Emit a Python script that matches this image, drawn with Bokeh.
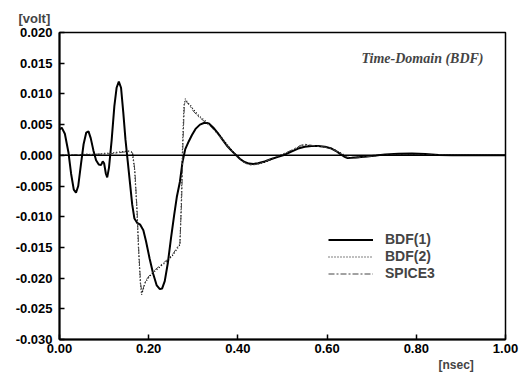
from bokeh.plotting import figure
from bokeh.models import Range1d, FixedTicker, PrintfTickFormatter, Span, Label, Title
from bokeh.embed import file_html
from bokeh.resources import INLINE

# ---- data (time in nsec, voltage in units of 0.001 volt, converted below) ----
t_bdf1 = [0.000, 0.005, 0.012, 0.020, 0.026, 0.032, 0.037, 0.042, 0.048, 0.054,
          0.060, 0.065, 0.070, 0.076, 0.082, 0.088, 0.093, 0.097, 0.100, 0.104,
          0.107, 0.111, 0.117, 0.123, 0.128, 0.133, 0.138, 0.143, 0.148, 0.153,
          0.158, 0.163, 0.168, 0.174, 0.181, 0.188, 0.194, 0.202, 0.210, 0.218,
          0.225, 0.230, 0.236, 0.243, 0.250, 0.257, 0.263, 0.270, 0.276, 0.282,
          0.290, 0.297, 0.305, 0.315, 0.325, 0.335, 0.345, 0.355, 0.365, 0.375,
          0.385, 0.395, 0.405, 0.415, 0.425, 0.435, 0.445, 0.460, 0.475, 0.490,
          0.505, 0.520, 0.535, 0.550, 0.565, 0.580, 0.595, 0.610, 0.620, 0.630,
          0.638, 0.646, 0.655, 0.670, 0.690, 0.710, 0.730, 0.760, 0.790, 0.820,
          0.850, 0.880, 0.920, 1.000]
v_bdf1 = [4.2, 4.5, 3.5, 0.5, -3.0, -5.6, -6.1, -5.0, -1.5, 1.8,
          3.7, 3.9, 2.8, 0.8, -0.8, -1.5, -1.6, -1.0, -1.3, -3.0,
          -3.6, -2.0, 2.5, 8.0, 11.0, 12.0, 11.0, 7.0, 2.5, -1.0,
          -4.5, -8.0, -10.3, -11.0, -11.3, -12.2, -14.0, -16.8, -19.3, -21.2,
          -21.8, -21.7, -20.5, -17.5, -13.5, -9.8, -6.8, -4.3, -1.0, 1.0,
          2.3, 3.3, 4.3, 5.0, 5.3, 5.2, 4.5, 3.6, 2.6, 1.6,
          0.8, 0.1, -0.6, -1.1, -1.35, -1.4, -1.3, -1.0, -0.6, -0.25,
          0.1, 0.6, 1.1, 1.4, 1.5, 1.5, 1.4, 1.1, 0.7, 0.2,
          -0.2, -0.45, -0.4, -0.3, -0.2, -0.05, 0.15, 0.25, 0.3, 0.2,
          0.05, 0.0, 0.0, 0.0]

t_bdf2 = [0.000, 0.020, 0.040, 0.060, 0.080, 0.100, 0.120, 0.140, 0.155, 0.163,
          0.168, 0.173, 0.177, 0.181, 0.184, 0.187, 0.192, 0.197, 0.205, 0.215,
          0.225, 0.235, 0.245, 0.255, 0.263, 0.270, 0.273, 0.276, 0.279, 0.282,
          0.287, 0.293, 0.300, 0.310, 0.320, 0.330, 0.340, 0.350, 0.360, 0.370,
          0.380, 0.390, 0.400, 0.410, 0.420, 0.430, 0.440, 0.450, 0.465, 0.480,
          0.495, 0.510, 0.525, 0.540, 0.550, 0.560, 0.575, 0.590, 0.605, 0.620,
          0.635, 0.645, 0.655, 0.670, 0.690, 0.720, 0.760, 0.800, 0.850, 0.900,
          1.000]
v_bdf2 = [0.0, 0.1, 0.0, 0.2, 0.1, 0.3, 0.4, 0.6, 0.7, 0.5,
          -2.0, -8.0, -15.0, -20.5, -22.7, -22.0, -20.8, -20.2, -19.5, -18.8,
          -18.2, -17.6, -17.0, -16.2, -15.3, -14.6, -8.0, 2.0, 8.0, 9.2,
          8.6, 8.2, 7.5, 6.6, 6.0, 5.4, 4.8, 4.0, 3.2, 2.3,
          1.4, 0.5, -0.3, -0.9, -1.3, -1.5, -1.5, -1.35, -1.0, -0.5,
          0.0, 0.4, 0.9, 1.5, 1.7, 1.6, 1.5, 1.4, 1.2, 0.8,
          0.2, -0.3, -0.4, -0.3, -0.15, 0.0, 0.1, 0.15, 0.05, 0.0,
          0.0]

t_spice = [0.000, 0.020, 0.040, 0.060, 0.080, 0.100, 0.120, 0.140, 0.155, 0.164,
           0.169, 0.174, 0.178, 0.182, 0.185, 0.188, 0.193, 0.198, 0.205, 0.215,
           0.225, 0.235, 0.245, 0.255, 0.263, 0.270, 0.274, 0.277, 0.280, 0.283,
           0.288, 0.294, 0.300, 0.310, 0.320, 0.330, 0.340, 0.350, 0.360, 0.370,
           0.380, 0.390, 0.400, 0.410, 0.420, 0.430, 0.440, 0.450, 0.465, 0.480,
           0.495, 0.510, 0.525, 0.540, 0.550, 0.560, 0.575, 0.590, 0.605, 0.620,
           0.635, 0.645, 0.655, 0.670, 0.690, 0.720, 0.760, 0.800, 0.850, 0.900,
           1.000]
v_spice = [0.0, 0.0, 0.1, 0.1, 0.2, 0.2, 0.3, 0.5, 0.6, 0.4,
           -2.5, -9.0, -16.0, -21.0, -22.4, -21.6, -20.5, -19.9, -19.3, -18.6,
           -18.0, -17.4, -16.8, -16.0, -15.1, -14.4, -7.0, 2.5, 8.3, 8.9,
           8.4, 7.9, 7.2, 6.4, 5.8, 5.2, 4.6, 3.8, 3.0, 2.1,
           1.2, 0.4, -0.4, -1.0, -1.4, -1.6, -1.5, -1.3, -0.9, -0.4,
           0.0, 0.5, 1.0, 1.6, 1.8, 1.7, 1.5, 1.4, 1.2, 0.7,
           0.1, -0.3, -0.5, -0.4, -0.2, 0.0, 0.1, 0.1, 0.05, 0.0,
           0.0]

y_ticks = [-0.030, -0.025, -0.020, -0.015, -0.010, -0.005, 0.000, 0.005, 0.010, 0.015, 0.020]
x_ticks = [0.0, 0.2, 0.4, 0.6, 0.8, 1.0]

to_volt = lambda vals: [v * 0.001 for v in vals]

p = figure(frame_width=446, frame_height=307,
           min_border_left=59, min_border_right=22, min_border_top=32, min_border_bottom=34,
           x_range=Range1d(0, 1.0), y_range=Range1d(-0.030, 0.020),
           output_backend="svg", toolbar_location=None,
           background_fill_color="white", border_fill_color="white")

p.xgrid.visible = False
p.ygrid.visible = False
p.outline_line_color = "black"
p.outline_line_width = 1.5

for ax in (p.xaxis[0], p.yaxis[0]):
    ax.axis_line_width = 2
    ax.axis_line_color = "black"
    ax.major_tick_in = 5
    ax.major_tick_out = 0
    ax.major_tick_line_width = 1.5
    ax.minor_tick_in = 0
    ax.minor_tick_out = 0
    ax.major_label_text_font = "Liberation Sans"
    ax.major_label_text_font_style = "bold"
    ax.major_label_text_font_size = "13px"
    ax.major_label_text_color = "black"

p.yaxis[0].ticker = FixedTicker(ticks=y_ticks)
p.yaxis[0].formatter = PrintfTickFormatter(format="%.3f")
p.yaxis[0].major_label_standoff = 7
p.xaxis[0].ticker = FixedTicker(ticks=x_ticks)
p.xaxis[0].formatter = PrintfTickFormatter(format="%.2f")
p.xaxis[0].major_label_standoff = 4

p.add_layout(Span(location=0, dimension="width", line_color="black", line_width=1.5))

p.line(t_bdf1, to_volt(v_bdf1), line_color="black", line_width=2, legend_label="BDF(1)")
p.line(t_bdf2, to_volt(v_bdf2), line_color="black", line_width=1.2, line_dash="1 2",
       legend_label="BDF(2)")
p.line(t_spice, to_volt(v_spice), line_color="#444444", line_width=1, line_dash="6 2 2 2",
       legend_label="SPICE3")

lg = p.legend[0]
lg.location = (269, 58)
lg.padding = 0
lg.margin = 0
lg.spacing = 1
lg.glyph_width = 45
lg.glyph_height = 15
lg.label_height = 15
lg.label_standoff = 12
lg.border_line_color = None
lg.background_fill_alpha = 0
lg.label_text_font = "Liberation Sans"
lg.label_text_font_style = "bold"
lg.label_text_font_size = "14px"

p.add_layout(Label(x=0.814, y=0.0158, text="Time-Domain (BDF)", text_align="center",
                   text_baseline="middle", text_font="Liberation Serif",
                   text_font_style="bold italic", text_font_size="14px"))

p.add_layout(Title(text="[volt]", align="left", offset=-41, standoff=14,
                   text_font="Liberation Sans", text_font_style="bold",
                   text_font_size="13px"), "above")
p.add_layout(Title(text="[nsec]", align="left", offset=379, standoff=0,
                   text_font="Liberation Sans", text_font_style="bold",
                   text_font_size="12px"), "below")

open("out.html", "w").write(file_html(p, INLINE))
